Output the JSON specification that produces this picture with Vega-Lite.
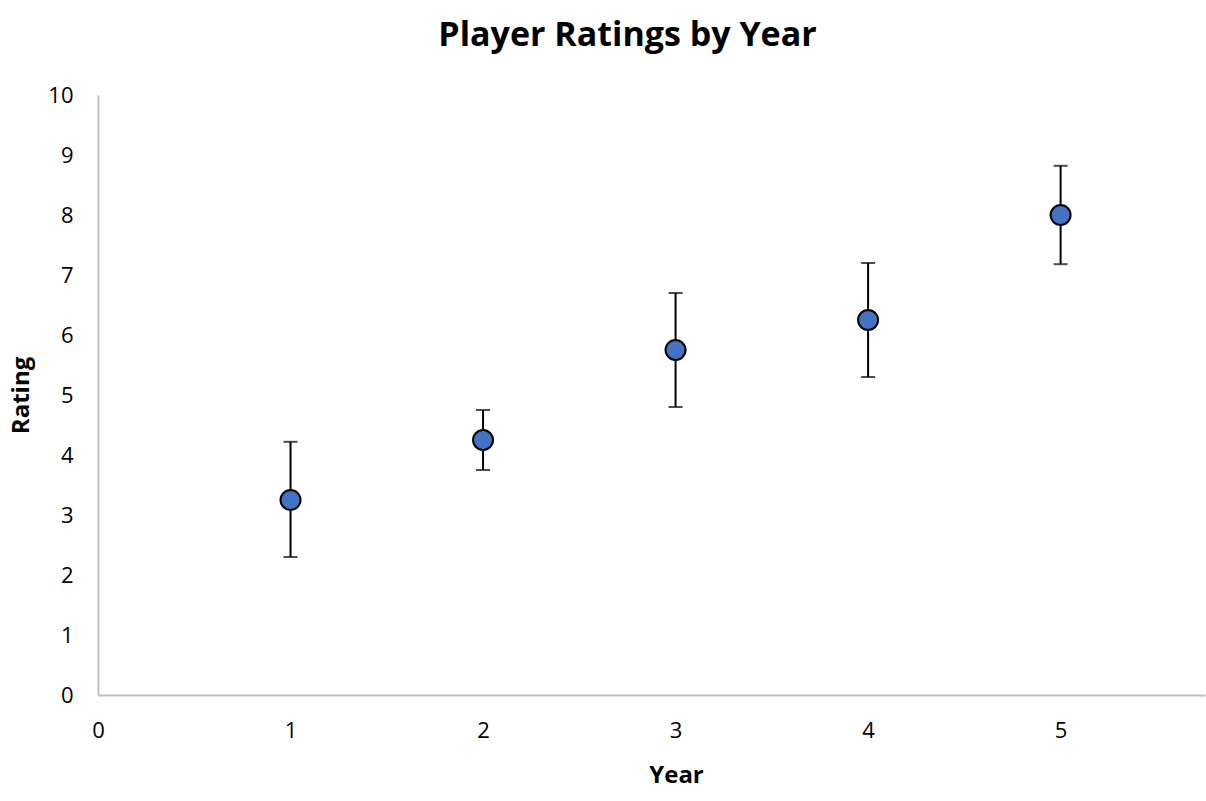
{
  "$schema": "https://vega.github.io/schema/vega-lite/v6.json",
  "autosize": "none",
  "width": 1107,
  "height": 600,
  "padding": {"left": 98, "top": 95, "right": 1, "bottom": 106},
  "background": "white",
  "title": {"text": "Player Ratings by Year", "font": "Open Sans", "fontSize": 34, "fontWeight": "bold", "color": "#000000", "offset": 31, "anchor": "middle", "dx": -24},
  "config": {"view": {"stroke": null}, "font": "Open Sans"},
  "data": {"values": [
    {"Year": 1, "Rating": 3.25, "Low": 2.3, "High": 4.22},
    {"Year": 2, "Rating": 4.25, "Low": 3.75, "High": 4.75},
    {"Year": 3, "Rating": 5.75, "Low": 4.8, "High": 6.7},
    {"Year": 4, "Rating": 6.25, "Low": 5.3, "High": 7.2},
    {"Year": 5, "Rating": 8.0, "Low": 7.18, "High": 8.82}
  ]},
  "encoding": {
    "x": {"field": "Year", "type": "quantitative", "scale": {"domain": [0, 5.75], "nice": false, "zero": true},
      "axis": {"values": [0, 1, 2, 3, 4, 5], "format": "d", "grid": false, "ticks": false, "labelFlush": false, "domainColor": "#BFBFBF", "domainWidth": 2, "labelFontSize": 22, "labelColor": "#000000", "labelPadding": 25, "labelFont": "Open Sans", "title": "Year", "titleFontSize": 24, "titleFont": "Open Sans", "titleFontWeight": "bold", "titleColor": "#000000", "titlePadding": 22, "titleX": 578}}
  },
  "layer": [
    {"mark": {"type": "rule", "color": "#000000", "strokeWidth": 2},
     "encoding": {"y": {"field": "Low", "type": "quantitative"}, "y2": {"field": "High"}}},
    {"mark": {"type": "tick", "orient": "horizontal", "color": "#000000", "size": 14, "thickness": 2},
     "encoding": {"y": {"field": "Low", "type": "quantitative"}}},
    {"mark": {"type": "tick", "orient": "horizontal", "color": "#000000", "size": 14, "thickness": 2},
     "encoding": {"y": {"field": "High", "type": "quantitative"}}},
    {"mark": {"type": "point", "shape": "circle", "filled": true, "fill": "#4472C4", "stroke": "#000000", "strokeWidth": 2, "size": 400, "opacity": 1},
     "encoding": {"y": {"field": "Rating", "type": "quantitative", "scale": {"domain": [0, 10], "nice": false},
       "axis": {"values": [0,1,2,3,4,5,6,7,8,9,10], "format": "d", "grid": false, "ticks": false, "labelFlush": false, "domainColor": "#BFBFBF", "domainWidth": 2, "labelFontSize": 22, "labelColor": "#000000", "labelPadding": 25, "labelFont": "Open Sans", "title": "Rating", "titleFontSize": 24, "titleFont": "Open Sans", "titleFontWeight": "bold", "titleColor": "#000000", "titlePadding": 14}}}}
  ],
  "resolve": {"scale": {"y": "shared"}}
}
